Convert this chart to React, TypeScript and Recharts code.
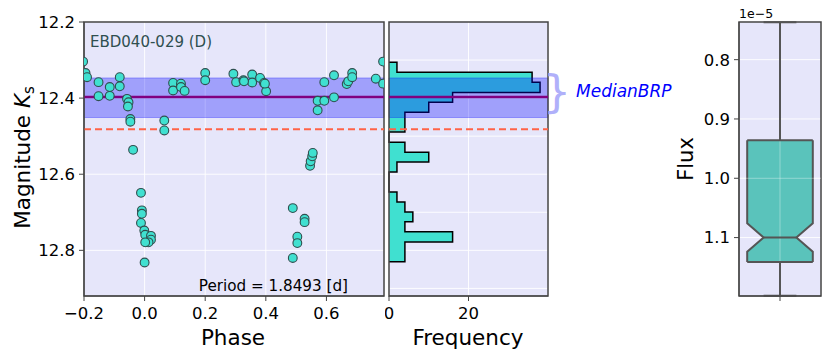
import React from "react";
import {
  ComposedChart,
  Scatter,
  Area,
  XAxis,
  YAxis,
  CartesianGrid,
  ReferenceArea,
  ReferenceLine,
} from "recharts";

const FONT = "DejaVu Sans, Verdana, sans-serif";
const BG = "#e6e6fa";
const SPINE = "#444444";

// phase-folded light curve
const phaseValues = [
  -0.203, -0.195, -0.19, -0.152, -0.152, -0.115, -0.115, -0.082, -0.082, -0.058,
  -0.053, -0.055, -0.047, -0.047, -0.038, -0.012, -0.009, -0.009, -0.012, -0.001,
  0.002, 0.021, 0.021, 0.013, 0.002, 0.0, 0.065, 0.065, 0.094, 0.094,
  0.12, 0.12, 0.132, 0.2, 0.2, 0.293, 0.302, 0.326, 0.355, 0.355,
  0.381, 0.394, 0.401, 0.489, 0.528, 0.528, 0.504, 0.504, 0.489, 0.546,
  0.548, 0.553, 0.555, 0.571, 0.571, 0.593, 0.593, 0.625, 0.625, 0.667,
  0.672, 0.685, 0.685, 0.763, 0.787, 0.787, 0.328, 0.397,
];
const magValues = [
  12.304, 12.334, 12.345, 12.358, 12.395, 12.371, 12.394, 12.345, 12.369, 12.402,
  12.411, 12.422, 12.455, 12.462, 12.536, 12.649, 12.695, 12.704, 12.728, 12.748,
  12.759, 12.762, 12.772, 12.779, 12.779, 12.832, 12.459, 12.485, 12.36, 12.38,
  12.362, 12.371, 12.381, 12.334, 12.353, 12.336, 12.358, 12.353, 12.338, 12.359,
  12.347, 12.36, 12.382, 12.689, 12.717, 12.726, 12.764, 12.781, 12.82, 12.578,
  12.566, 12.553, 12.544, 12.407, 12.432, 12.407, 12.358, 12.34, 12.398, 12.363,
  12.356, 12.334, 12.345, 12.349, 12.304, 12.362, 12.356, 12.362,
];

const phaseTicks = [-0.2, 0, 0.2, 0.4, 0.6];
const magTicks = [12.2, 12.4, 12.6, 12.8];
const histGridMags = [12.3, 12.4, 12.5, 12.6, 12.7, 12.8, 12.9];

const medianMag = 12.397;
const bandLow = 12.347;
const bandHigh = 12.451;
const limitMag = 12.482;

// histogram of magnitudes
const binEdges = [
  12.306, 12.332, 12.358, 12.385, 12.411, 12.437, 12.463, 12.489, 12.516, 12.542,
  12.568, 12.594, 12.62, 12.647, 12.673, 12.699, 12.725, 12.751, 12.778, 12.804,
  12.83,
];
const binCounts = [2, 36, 38, 16, 10, 4, 4, 0, 4, 10, 2, 0, 0, 2, 4, 6, 4, 16, 4, 4];
const freqTicks = [0, 20];

// flux box plot (units of 1e-5)
const fluxTicks = [0.8, 0.9, 1.0, 1.1];
const fluxWhiskerLow = 0.737;
const fluxQ1 = 0.936;
const fluxNotchLow = 1.076;
const fluxMedian = 1.1;
const fluxNotchHigh = 1.124;
const fluxQ3 = 1.141;
const fluxWhiskerHigh = 1.198;

const points = phaseValues.map((p, i) => ({ phase: p, mag: magValues[i] }));

const histData = [
  { edge: binEdges[0], count: 0 },
  ...binCounts.map((c, i) => ({ edge: binEdges[i], count: c })),
  { edge: binEdges[binEdges.length - 1], count: 0 },
];

// box geometry on a 0..1 horizontal axis
const BOX_L = 0.1;
const BOX_R = 0.9;
const NOTCH_L = 0.3;
const NOTCH_R = 0.7;
const boxData = [
  { flux: fluxQ1, span: [BOX_L, BOX_R] },
  { flux: fluxNotchLow, span: [BOX_L, BOX_R] },
  { flux: fluxMedian, span: [NOTCH_L, NOTCH_R] },
  { flux: fluxNotchHigh, span: [BOX_L, BOX_R] },
  { flux: fluxQ3, span: [BOX_L, BOX_R] },
];

const tickStyle = { fill: "#000", fontSize: 16.5, fontFamily: FONT };
const fmtPhase = (v: number) => (v < 0 ? `\u2212${Math.abs(v).toFixed(1)}` : v.toFixed(1));

const MAG_DOMAIN: [number, number] = [12.2, 12.92];
const FLUX_DOMAIN: [number, number] = [0.7365, 1.1985];

function PhasePanel() {
  return (
    <ComposedChart
      width={390}
      height={358}
      data={points}
      margin={{ top: 22, right: 6, bottom: 32, left: 0 }}
    >
      <CartesianGrid fill={BG} stroke="#ffffff" strokeOpacity={0.9} />
      <XAxis
        type="number"
        dataKey="phase"
        domain={[-0.2, 0.79]}
        allowDataOverflow
        ticks={phaseTicks}
        interval={0}
        tickFormatter={fmtPhase}
        tick={tickStyle}
        tickSize={5}
        tickMargin={6}
        height={30}
        tickLine={{ stroke: SPINE }}
        axisLine={{ stroke: SPINE }}
      />
      <YAxis
        type="number"
        dataKey="mag"
        domain={MAG_DOMAIN}
        allowDataOverflow
        reversed
        ticks={magTicks}
        interval={0}
        tickFormatter={(v: number) => v.toFixed(1)}
        tick={tickStyle}
        tickSize={5}
        tickMargin={4}
        width={84}
        tickLine={{ stroke: SPINE }}
        axisLine={{ stroke: SPINE }}
      />
      <ReferenceArea
        y1={bandLow}
        y2={bandHigh}
        fill="#0000ff"
        fillOpacity={0.3}
        stroke="#0000ff"
        strokeOpacity={0.3}
      />
      <ReferenceLine y={medianMag} stroke="#800080" strokeWidth={2.5} />
      <ReferenceLine y={limitMag} stroke="#ff6347" strokeWidth={2} strokeDasharray="7 4" />
      <Scatter
        dataKey="mag"
        isAnimationActive={false}
        shape={(p: any) => (
          <circle cx={p.cx} cy={p.cy} r={4.4} fill="#40e0d0" stroke="#2f4f4f" strokeWidth={1.1} />
        )}
      />
      <ReferenceArea
        x1={-0.2}
        x2={0.79}
        y1={MAG_DOMAIN[0]}
        y2={MAG_DOMAIN[1]}
        fill="none"
        stroke={SPINE}
        strokeWidth={1.5}
      />
    </ComposedChart>
  );
}

function HistPanel() {
  return (
    <ComposedChart
      layout="vertical"
      width={170}
      height={358}
      data={histData}
      margin={{ top: 22, right: 7, bottom: 32, left: 4 }}
    >
      <CartesianGrid
        fill={BG}
        stroke="#ffffff"
        strokeOpacity={0.9}
        horizontalValues={histGridMags}
      />
      <XAxis
        type="number"
        domain={[0, 40]}
        ticks={freqTicks}
        interval={0}
        tick={tickStyle}
        tickSize={5}
        tickMargin={6}
        height={30}
        tickLine={{ stroke: SPINE }}
        axisLine={{ stroke: SPINE }}
      />
      <YAxis type="number" dataKey="edge" domain={MAG_DOMAIN} hide />
      <Area
        type="stepBefore"
        dataKey="count"
        stroke="#000000"
        strokeWidth={1.5}
        fill="#40e0d0"
        fillOpacity={1}
        dot={false}
        activeDot={false}
        isAnimationActive={false}
      />
      <ReferenceArea
        y1={bandLow}
        y2={bandHigh}
        fill="#0000ff"
        fillOpacity={0.3}
        stroke="#0000ff"
        strokeOpacity={0.3}
      />
      <ReferenceLine y={medianMag} stroke="#800080" strokeWidth={2.5} />
      <ReferenceLine y={limitMag} stroke="#ff6347" strokeWidth={2} strokeDasharray="7 4" />
      <ReferenceArea
        x1={0}
        x2={40}
        y1={MAG_DOMAIN[0]}
        y2={MAG_DOMAIN[1]}
        fill="none"
        stroke={SPINE}
        strokeWidth={1.5}
      />
    </ComposedChart>
  );
}

function FluxPanel() {
  const edge = { stroke: "#555555", strokeWidth: 2 };
  return (
    <ComposedChart
      layout="vertical"
      width={150}
      height={358}
      data={boxData}
      margin={{ top: 22, right: 9, bottom: 32, left: 0 }}
    >
      <CartesianGrid fill={BG} stroke="#ffffff" strokeOpacity={0.9} />
      <XAxis
        type="number"
        domain={[0, 1]}
        ticks={[0.5]}
        interval={0}
        tickFormatter={() => ""}
        tickSize={5}
        height={30}
        tickLine={{ stroke: SPINE }}
        axisLine={{ stroke: SPINE }}
      />
      <YAxis
        type="number"
        dataKey="flux"
        domain={FLUX_DOMAIN}
        allowDataOverflow
        ticks={fluxTicks}
        interval={0}
        tickFormatter={(v: number) => v.toFixed(1)}
        tick={tickStyle}
        tickSize={5}
        tickMargin={4}
        width={59}
        tickLine={{ stroke: SPINE }}
        axisLine={{ stroke: SPINE }}
      />
      <Area
        type="linear"
        dataKey="span"
        fill="#5ac3bb"
        fillOpacity={1}
        stroke="#555555"
        strokeWidth={2}
        dot={false}
        activeDot={false}
        isAnimationActive={false}
      />
      <ReferenceLine x={0.5} stroke="#ffffff" strokeOpacity={0.35} />
      <ReferenceLine y={1.0} stroke="#ffffff" strokeOpacity={0.35} />
      <ReferenceLine segment={[{ x: BOX_L, y: fluxQ1 }, { x: BOX_R, y: fluxQ1 }]} {...edge} />
      <ReferenceLine segment={[{ x: BOX_L, y: fluxQ3 }, { x: BOX_R, y: fluxQ3 }]} {...edge} />
      <ReferenceLine
        segment={[{ x: NOTCH_L, y: fluxMedian }, { x: NOTCH_R, y: fluxMedian }]}
        {...edge}
      />
      <ReferenceLine
        segment={[{ x: 0.5, y: fluxWhiskerLow }, { x: 0.5, y: fluxQ1 }]}
        {...edge}
      />
      <ReferenceLine
        segment={[{ x: 0.5, y: fluxQ3 }, { x: 0.5, y: fluxWhiskerHigh }]}
        {...edge}
      />
      <ReferenceLine
        segment={[{ x: 0.3, y: fluxWhiskerLow }, { x: 0.7, y: fluxWhiskerLow }]}
        {...edge}
      />
      <ReferenceLine
        segment={[{ x: 0.3, y: fluxWhiskerHigh }, { x: 0.7, y: fluxWhiskerHigh }]}
        {...edge}
      />
      <ReferenceArea
        x1={0}
        x2={1}
        y1={FLUX_DOMAIN[0]}
        y2={FLUX_DOMAIN[1]}
        fill="none"
        stroke={SPINE}
        strokeWidth={1.5}
      />
    </ComposedChart>
  );
}

export default function App() {
  return (
    <div
      style={{
        position: "absolute",
        left: 0,
        top: 0,
        width: 830,
        height: 358,
        background: "#ffffff",
        fontFamily: FONT,
      }}
    >
      <div style={{ position: "absolute", left: 0, top: 0 }}>
        <PhasePanel />
      </div>
      <div style={{ position: "absolute", left: 385, top: 0 }}>
        <HistPanel />
      </div>
      <div style={{ position: "absolute", left: 680, top: 0 }}>
        <FluxPanel />
      </div>
      <svg
        width={830}
        height={358}
        style={{ position: "absolute", left: 0, top: 0, pointerEvents: "none" }}
        fontFamily={FONT}
      >
        <text
          x={30}
          y={157.5}
          transform="rotate(-90 30 157.5)"
          textAnchor="middle"
          fontSize={21.5}
          fill="#000"
        >
          Magnitude <tspan fontStyle="italic">K</tspan>
          <tspan fontSize={15} dy={4}>
            s
          </tspan>
        </text>
        <text x={233} y={345} textAnchor="middle" fontSize={21.5} fill="#000">
          Phase
        </text>
        <text x={468} y={345} textAnchor="middle" fontSize={21.5} fill="#000">
          Frequency
        </text>
        <text
          x={693}
          y={159}
          transform="rotate(-90 693 159)"
          textAnchor="middle"
          fontSize={21}
          fill="#000"
        >
          Flux
        </text>
        <text x={739} y={18} fontSize={12.5} fill="#000">
          1e{"\u2212"}5
        </text>
        <text x={90} y={46.5} fontSize={15} fill="#2f4f4f">
          EBD040-029 (D)
        </text>
        <text x={348} y={290.5} textAnchor="end" fontSize={15.2} fill="#000">
          Period = 1.8493 [d]
        </text>
        <text x={543} y={107} fontSize={44} fill="#b0b0fa">
          {"}"}
        </text>
        <text x={576} y={97} fontSize={17} fontStyle="italic" fill="#0000ff">
          MedianBRP
        </text>
      </svg>
    </div>
  );
}
